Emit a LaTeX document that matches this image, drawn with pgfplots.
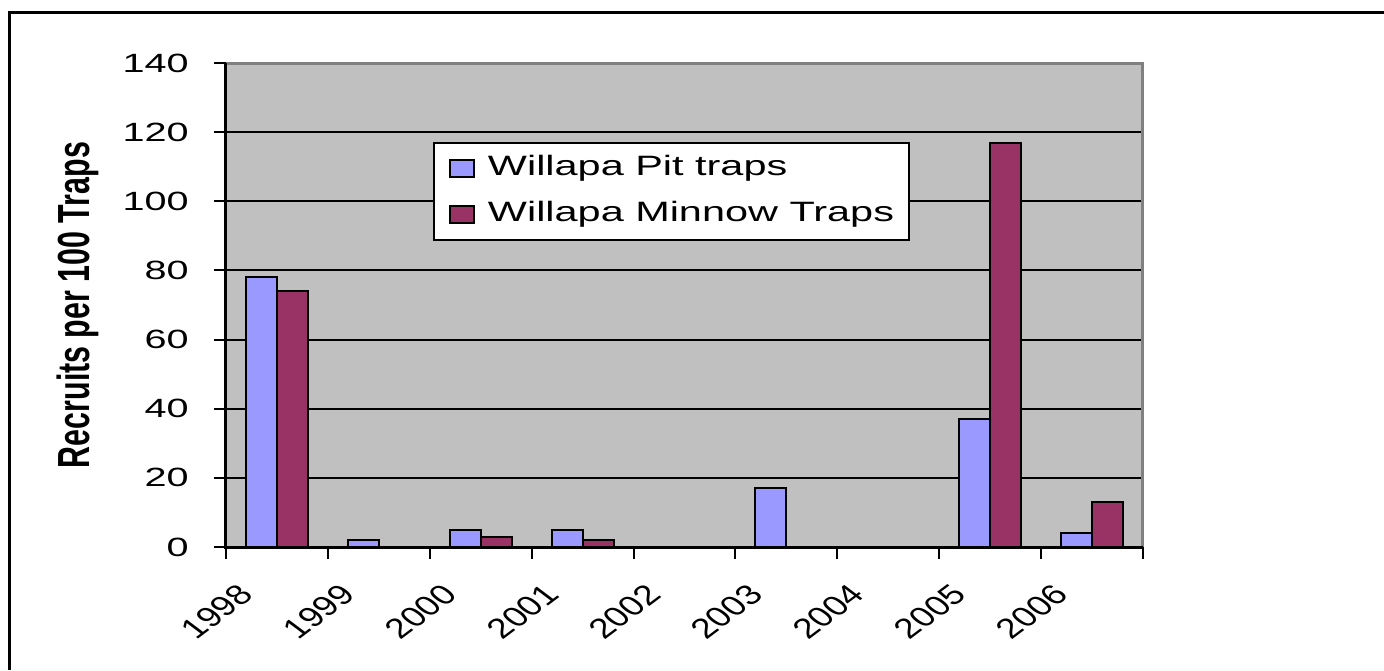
\documentclass[border=0pt]{standalone}
\usepackage{fontspec}
\setmainfont{Liberation Sans}
\usepackage{graphicx}
\usepackage{pgfplots}
\pgfplotsset{compat=1.18}
\definecolor{bggray}{HTML}{C0C0C0}
\definecolor{bordergray}{HTML}{808080}
\definecolor{pitblue}{HTML}{9999FF}
\definecolor{minnow}{HTML}{993366}
\pgfplotsset{mylegend/.style={legend image code/.code={\draw[##1, line width=1pt] (0pt,-4.25pt) rectangle (12pt,4.25pt);}}}
\newcommand{\xl}[1]{\scalebox{1.33}[1]{\rotatebox{45}{#1}}}
\begin{document}
\begin{tikzpicture}
\useasboundingbox (-113pt,-61.5pt) rectangle (579pt,273.5pt);
\draw[line width=1.5pt] (-108pt,-61.5pt) -- (-108pt,267pt) -- (579pt,267pt);
\begin{axis}[
  at={(0pt,0pt)}, anchor=south west,
  scale only axis, width=458.5pt, height=242pt,
  xmin=-0.5, xmax=8.5, ymin=0, ymax=140,
  clip=false,
  ybar=0pt, bar width=15.5pt,
  every axis plot post/.append style={mylegend},
  axis background/.style={fill=bggray},
  axis line style={draw=none},
  xtick={-0.5,0.5,...,8.5},
  x tick label as interval,
  xticklabels={\xl{1998},\xl{1999},\xl{2000},\xl{2001},\xl{2002},\xl{2003},\xl{2004},\xl{2005},\xl{2006}},
  ytick={0,20,...,140},
  yticklabel={\scalebox{1.5}[1]{\pgfmathprintnumber{\tick}}},
  tick pos=left,
  tick align=outside,
  major tick length=6pt,
  tick style={black, line width=1pt},
  ymajorgrids, grid style={black, line width=1pt},
  /pgf/number format/assume math mode=true,
  yticklabel style={font=\fontsize{13.2}{15.8}\selectfont, anchor=east, inner sep=0pt, xshift=-12.5pt},
  xticklabel style={font=\fontsize{14}{16.8}\selectfont, inner sep=0pt, anchor=north east, xshift=-10.5pt, yshift=-11.5pt},
  ylabel={\scalebox{1}[1.48]{Recruits per 100 Traps}},
  every axis y label/.style={at={(axis description cs:0,0.5)}, xshift=-74pt, rotate=90, anchor=center, font=\fontsize{15.2}{18}\selectfont\bfseries},
  legend style={at={(axis description cs:0.2257,0.8368)}, anchor=north west, draw=black, line width=1pt, fill=white,
    font=\fontsize{14}{16.8}\selectfont, inner xsep=7.5pt, inner ysep=6.2pt, row sep=9.9pt, column sep=6.5pt,
    nodes={inner sep=0pt, text height=10.2pt, text depth=2.9pt, anchor=west}},
  legend cell align=left,
]
\addplot[fill=pitblue, draw=black, line width=1pt] coordinates {(0,78) (1,2) (2,5) (3,5) (5,17) (7,37) (8,4)};
\addlegendentry{\scalebox{1.48}[1]{Willapa Pit traps}}
\addplot[fill=minnow, draw=black, line width=1pt] coordinates {(0,74) (2,3) (3,2) (7,117) (8,13)};
\addlegendentry{\scalebox{1.48}[1]{Willapa Minnow Traps}}
\draw[bordergray, line width=1.5pt] (rel axis cs:0,1) -- (rel axis cs:1,1) -- (rel axis cs:1,0);
\draw[black, line width=1.5pt] (rel axis cs:0,1) -- (rel axis cs:0,0) -- (rel axis cs:1,0);
\end{axis}
\end{tikzpicture}
\end{document}
